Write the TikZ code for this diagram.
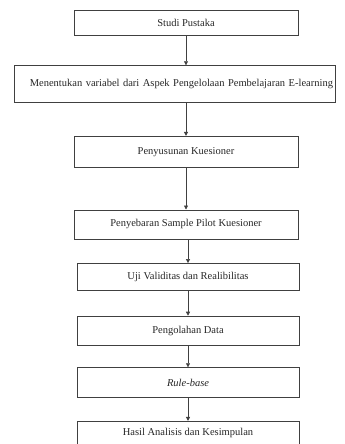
\documentclass[tikz,border=0pt]{standalone}
\usepackage{fontspec}
\setmainfont{Liberation Serif}
\usetikzlibrary{arrows.meta}
\usetikzlibrary{positioning}

\tikzset{
    tahap/.style={draw=black!75, line width=0.6pt, inner sep=0pt, minimum width=224pt, minimum height=29pt, font=\fontsize{10.5}{12}\selectfont, text=black!85},
    panah/.style={draw=black!75, line width=0.6pt, -{Triangle[width=4pt,length=4pt]}}
}

\begin{document}
\begin{tikzpicture}
            \useasboundingbox (0,0) rectangle (345pt,-444pt);
            \clip (0,0) rectangle (345pt,-444pt);
            \node [tahap, minimum height=25pt] (studi) at (186pt,-22.5pt) {Studi Pustaka};
            \node [tahap, minimum height=37pt, inner xsep=2pt, text width=317pt, align=right, below=30pt of studi, xshift=-11.5pt] (variabel) {Menentukan variabel dari Aspek Pengelolaan Pembelajaran E-learning};
            \node [tahap, minimum height=31pt, below=33pt of variabel, xshift=11.5pt] (susun) {Penyusunan Kuesioner};
            \node [tahap, below=42pt of susun] (sebar) {Penyebaran Sample Pilot Kuesioner};
            \node [tahap, minimum width=222pt, minimum height=27pt, below=24pt of sebar, xshift=2pt] (uji) {Uji Validitas dan Realibilitas};
            \node [tahap, minimum width=222pt, below=25pt of uji] (olah) {Pengolahan Data};
            \node [tahap, minimum width=222pt, minimum height=30pt, below=22pt of olah] (rule) {\itshape Rule-base};
            \node [tahap, minimum width=222pt, below=23pt of rule, text height=14pt, text depth=30pt] (hasil) {Hasil Analisis dan Kesimpulan};

            % panah antar tahap
            \draw [panah] (studi) -- (studi |- variabel.north);
            \draw [panah] (variabel.south -| susun) -- (susun);
            \draw [panah] (susun) -- (sebar);
            \draw [panah] (sebar.south -| uji) -- (uji);
            \draw [panah] (uji) -- (olah);
            \draw [panah] (olah) -- (rule);
            \draw [panah] (rule) -- (hasil);
    \end{tikzpicture}
\end{document}
